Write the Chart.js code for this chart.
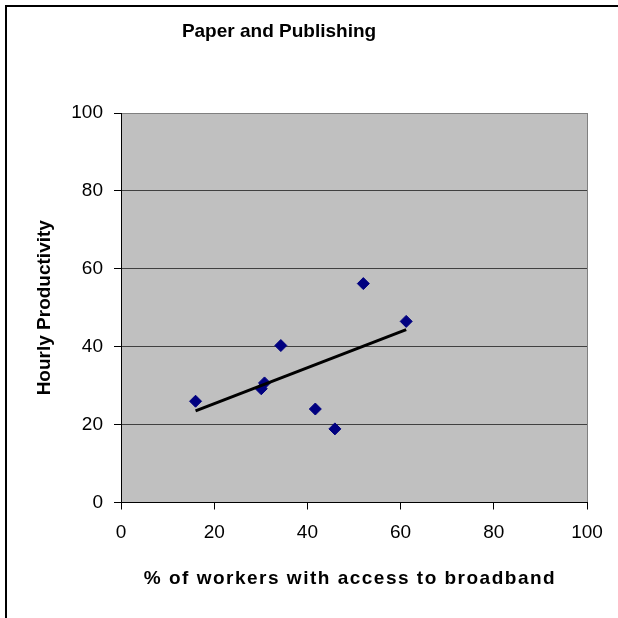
<!DOCTYPE html>
<html>
<head>
<meta charset="utf-8">
<script src="https://cdn.jsdelivr.net/npm/chart.js@4.4.1/dist/chart.umd.min.js"></script>
<style>
  html, body { margin: 0; padding: 0; background: #fff; }
  #wrap { width: 618px; height: 618px; }
</style>
</head>
<body>
<div id="wrap"><canvas id="paper" width="618" height="618"></canvas></div>
<script>
// values
const broadbandPct = [16.0, 30.1, 30.8, 34.3, 41.7, 45.9, 52.0, 61.2];
const hourlyProductivity = [26.0, 29.2, 30.7, 40.3, 24.0, 18.9, 56.2, 46.5];
// linear trend line ends
const trendX = [16.0, 61.2];
const trendY = [23.5, 44.4];
const xTicks = [0, 20, 40, 60, 80, 100];
const yTicks = [0, 20, 40, 60, 80, 100];

const chartTitle = "Paper and Publishing";
const xTitle = "% of workers with access to broadband";
const yTitle = "Hourly Productivity";

const FONT = "'Liberation Sans', Arial, sans-serif";

// grey plot area, outer frame, title and x axis title
const decor = {
    id: 'decor',
    beforeDraw(chart) {
        const ctx = chart.ctx;
        const a = chart.chartArea;
        ctx.save();
        ctx.fillStyle = '#fff';
        ctx.fillRect(0, 0, chart.width, chart.height);
        ctx.fillStyle = '#c0c0c0';
        ctx.fillRect(a.left, a.top, a.right - a.left, a.bottom - a.top);
        ctx.restore();
    },
    afterDraw(chart) {
        const ctx = chart.ctx;
        const a = chart.chartArea;
        ctx.save();
        ctx.fillStyle = '#000';
        ctx.fillRect(5, 5, 2, chart.height - 5);
        ctx.fillRect(5, 5, chart.width - 5, 2);

        ctx.textAlign = 'center';
        ctx.textBaseline = 'alphabetic';
        ctx.font = "bold 19px " + FONT;
        ctx.fillText(chartTitle, 279, 37);

        ctx.letterSpacing = '1.5px';
        ctx.fillText(xTitle, (a.left + a.right) / 2 - 4, 584);
        ctx.restore();
    }
};

const ctx = document.getElementById('paper').getContext('2d');
const paperChart = new Chart(ctx, {
    type: 'scatter',
    data: {
        datasets: [{
            type: 'line',
            label: 'Trend',
            data: trendX.map((x, i) => ({ x: x, y: trendY[i] })),
            borderColor: '#000',
            borderWidth: 3,
            pointRadius: 0,
            fill: false,
            order: 0
        }, {
            label: 'Paper and Publishing',
            data: broadbandPct.map((x, i) => ({ x: x, y: hourlyProductivity[i] })),
            pointStyle: 'rectRot',
            pointRadius: 6,
            backgroundColor: '#000080',
            borderColor: '#000080',
            borderWidth: 1,
            order: 1
        }]
    },
    options: {
        responsive: false,
        animation: false,
        events: [],
        layout: { padding: { top: 113, right: 31, left: 0, bottom: 0 } },
        plugins: {
            legend: { display: false },
            tooltip: { enabled: false },
            title: { display: false }
        },
        scales: {
            x: {
                type: 'linear',
                min: 0,
                max: 100,
                afterBuildTicks: (s) => { s.ticks = xTicks.map(v => ({ value: v })); },
                afterFit: (s) => { s.height = 115.5; },
                ticks: {
                    color: '#000',
                    padding: 12,
                    font: { family: FONT, size: 19 }
                },
                border: { color: '#000', width: 1 },
                grid: {
                    color: (c) => c.tick && c.tick.value === 100 ? '#808080' : 'rgba(0,0,0,0)',
                    tickColor: '#000',
                    tickLength: 7,
                    lineWidth: 1
                }
            },
            y: {
                min: 0,
                max: 100,
                afterBuildTicks: (s) => { s.ticks = yTicks.map(v => ({ value: v })); },
                afterFit: (s) => { s.width = 121; },
                ticks: {
                    color: '#000',
                    padding: 11,
                    font: { family: FONT, size: 19 }
                },
                title: {
                    display: true,
                    text: yTitle,
                    color: '#000',
                    padding: { top: 33, bottom: 0 },
                    font: { family: FONT, size: 19, weight: 'bold' }
                },
                border: { color: '#000', width: 1 },
                grid: {
                    color: (c) => c.tick && c.tick.value === 100 ? '#808080' : '#404040',
                    tickColor: '#000',
                    tickLength: 7,
                    lineWidth: 1
                }
            }
        }
    },
    plugins: [decor]
});
</script>
</body>
</html>
